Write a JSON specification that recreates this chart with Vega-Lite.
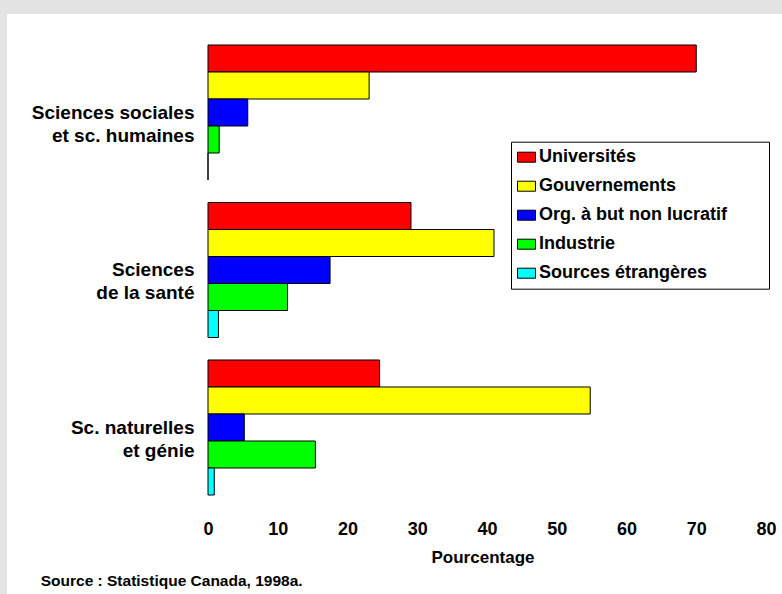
{
  "$schema": "https://vega.github.io/schema/vega-lite/v6.json",
  "autosize": {"type": "none"},
  "width": 776,
  "height": 581,
  "padding": {"left": 7, "top": 14, "right": 0, "bottom": 0},
  "background": "#e3e3e3",
  "config": {
    "view": {"fill": "white", "stroke": null},
    "font": "Liberation Sans"
  },
  "title": {
    "text": "Source : Statistique Canada, 1998a.",
    "orient": "bottom",
    "anchor": "start",
    "frame": "group",
    "offset": -9,
    "dx": 33.7,
    "fontSize": 15.5,
    "fontWeight": "bold",
    "color": "black",
    "baseline": "alphabetic"
  },
  "data": {
    "values": [
      {"domaine": "Sciences sociales|et sc. humaines", "source": "Universités", "pct": 70},
      {"domaine": "Sciences sociales|et sc. humaines", "source": "Gouvernements", "pct": 23.1},
      {"domaine": "Sciences sociales|et sc. humaines", "source": "Org. à but non lucratif", "pct": 5.7},
      {"domaine": "Sciences sociales|et sc. humaines", "source": "Industrie", "pct": 1.6},
      {"domaine": "Sciences sociales|et sc. humaines", "source": "Sources étrangères", "pct": 0},
      {"domaine": "Sciences|de la santé", "source": "Universités", "pct": 29.1},
      {"domaine": "Sciences|de la santé", "source": "Gouvernements", "pct": 41},
      {"domaine": "Sciences|de la santé", "source": "Org. à but non lucratif", "pct": 17.5},
      {"domaine": "Sciences|de la santé", "source": "Industrie", "pct": 11.4},
      {"domaine": "Sciences|de la santé", "source": "Sources étrangères", "pct": 1.5},
      {"domaine": "Sc. naturelles|et génie", "source": "Universités", "pct": 24.6},
      {"domaine": "Sc. naturelles|et génie", "source": "Gouvernements", "pct": 54.8},
      {"domaine": "Sc. naturelles|et génie", "source": "Org. à but non lucratif", "pct": 5.2},
      {"domaine": "Sc. naturelles|et génie", "source": "Industrie", "pct": 15.4},
      {"domaine": "Sc. naturelles|et génie", "source": "Sources étrangères", "pct": 0.9}
    ]
  },
  "mark": {"type": "bar", "stroke": "black", "strokeWidth": 1},
  "encoding": {
    "y": {
      "field": "domaine",
      "type": "nominal",
      "sort": ["Sciences sociales|et sc. humaines", "Sciences|de la santé", "Sc. naturelles|et génie"],
      "scale": {"range": [31, 481], "paddingInner": 0.142857, "paddingOuter": 0},
      "axis": {
        "title": null,
        "domain": false,
        "ticks": false,
        "labelPadding": 0,
        "offset": -187,
        "labelFontSize": 19,
        "labelFontWeight": "bold",
        "labelColor": "black",
        "labelExpr": "split(datum.label, '|')",
        "labelLineHeight": 23,
        "labelLimit": 300
      }
    },
    "yOffset": {
      "field": "source",
      "type": "nominal",
      "sort": ["Universités", "Gouvernements", "Org. à but non lucratif", "Industrie", "Sources étrangères"],
      "scale": {"paddingInner": 0, "paddingOuter": 0}
    },
    "x": {
      "field": "pct",
      "type": "quantitative",
      "scale": {"domain": [0, 80], "range": [201, 759], "nice": false},
      "axis": {
        "title": "Pourcentage",
        "values": [0, 10, 20, 30, 40, 50, 60, 70, 80],
        "domain": false,
        "ticks": false,
        "grid": false,
        "labelFlush": false,
        "labelOverlap": false,
        "labelFontSize": 18,
        "labelFontWeight": "bold",
        "labelColor": "black",
        "labelBaseline": "alphabetic",
        "labelPadding": 0,
        "offset": -61,
        "titleFontSize": 17,
        "titleFontWeight": "bold",
        "titleColor": "black",
        "titleBaseline": "alphabetic",
        "titleAlign": "center",
        "titleX": 475.5,
        "titleY": 28.7
      }
    },
    "color": {
      "field": "source",
      "type": "nominal",
      "scale": {
        "domain": ["Universités", "Gouvernements", "Org. à but non lucratif", "Industrie", "Sources étrangères"],
        "range": ["#ff0000", "#ffff00", "#0000ff", "#00ff00", "#00ffff"]
      },
      "legend": {
        "title": null,
        "orient": "none",
        "legendX": 504,
        "legendY": 127.7,
        "strokeColor": "black",
        "fillColor": "white",
        "padding": 6,
        "symbolType": "M-1,-0.556H1V0.556H-1Z",
        "symbolSize": 324,
        "symbolStrokeColor": "black",
        "symbolStrokeWidth": 1,
        "symbolOpacity": 1,
        "labelFontSize": 18,
        "labelFontWeight": "bold",
        "labelColor": "black",
        "labelLimit": 400,
        "labelOffset": 3,
        "rowPadding": 10,
        "labelExpr": "datum.label + '\u00a0\u00a0\u00a0\u00a0\u00a0\u00a0\u00a0\u200b'"
      }
    }
  }
}
